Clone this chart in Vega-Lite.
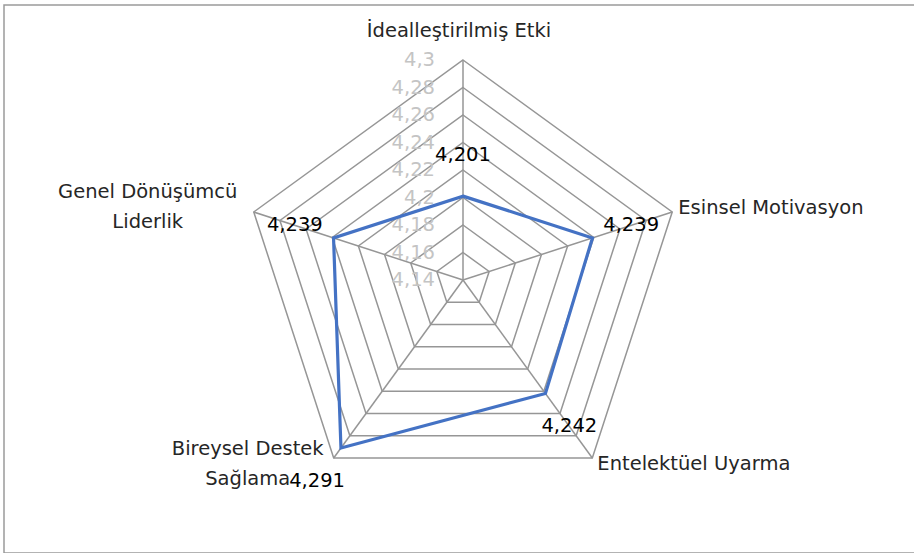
{
  "$schema": "https://vega.github.io/schema/vega-lite/v6.json",
  "width": 920,
  "height": 548,
  "autosize": "none",
  "padding": {"left": 4, "top": 5, "right": 0, "bottom": 0},
  "background": "white",
  "config": {
    "view": {"stroke": "#9a9a9a", "strokeWidth": 1.5},
    "locale": {"number": {"decimal": ",", "thousands": ".", "grouping": [3], "currency": ["", " ₺"]}},
    "text": {"font": "DejaVu Sans"}
  },
  "datasets": {
    "pts": [
      {"name": "İdealleştirilmiş Etki", "i": 0, "v": 4.201},
      {"name": "Esinsel Motivasyon", "i": 1, "v": 4.239},
      {"name": "Entelektüel Uyarma", "i": 2, "v": 4.242},
      {"name": "Bireysel Destek\nSağlama", "i": 3, "v": 4.291},
      {"name": "Genel Dönüşümcü\nLiderlik", "i": 4, "v": 4.239}
    ],
    "levels": [
      {"level": 4.14, "k0": 0, "k1": 1, "k2": 2, "k3": 3, "k4": 4},
      {"level": 4.16, "k0": 0, "k1": 1, "k2": 2, "k3": 3, "k4": 4},
      {"level": 4.18, "k0": 0, "k1": 1, "k2": 2, "k3": 3, "k4": 4},
      {"level": 4.2, "k0": 0, "k1": 1, "k2": 2, "k3": 3, "k4": 4},
      {"level": 4.22, "k0": 0, "k1": 1, "k2": 2, "k3": 3, "k4": 4},
      {"level": 4.24, "k0": 0, "k1": 1, "k2": 2, "k3": 3, "k4": 4},
      {"level": 4.26, "k0": 0, "k1": 1, "k2": 2, "k3": 3, "k4": 4},
      {"level": 4.28, "k0": 0, "k1": 1, "k2": 2, "k3": 3, "k4": 4},
      {"level": 4.3, "k0": 0, "k1": 1, "k2": 2, "k3": 3, "k4": 4}
    ]
  },
  "encoding": {
    "x": {"field": "x", "type": "quantitative", "scale": {"domain": [-2.086364, 2.095455], "zero": false, "nice": false}, "axis": null},
    "y": {"field": "y", "type": "quantitative", "scale": {"domain": [-1.240909, 1.25], "zero": false, "nice": false}, "axis": null}
  },
  "layer": [
    {
      "data": {"name": "levels"},
      "transform": [
        {"filter": "datum.level > 4.15"},
        {"fold": ["k0", "k1", "k2", "k3", "k4"]},
        {"calculate": "PI/2 - datum.value*2*PI/5", "as": "a"},
        {"calculate": "(datum.level-4.14)/0.16", "as": "r"},
        {"calculate": "datum.r*cos(datum.a)", "as": "x"},
        {"calculate": "datum.r*sin(datum.a)", "as": "y"}
      ],
      "mark": {"type": "line", "interpolate": "linear-closed", "color": "#969696", "strokeWidth": 1.5},
      "encoding": {"detail": {"field": "level", "type": "nominal"}, "order": {"field": "value", "type": "quantitative"}}
    },
    {
      "data": {"name": "pts"},
      "transform": [
        {"calculate": "PI/2 - datum.i*2*PI/5", "as": "a"},
        {"calculate": "cos(datum.a)", "as": "x"},
        {"calculate": "sin(datum.a)", "as": "y"},
        {"calculate": "0", "as": "z"}
      ],
      "mark": {"type": "rule", "color": "#969696", "strokeWidth": 1.5},
      "encoding": {"x2": {"field": "z"}, "y2": {"field": "z"}}
    },
    {
      "data": {"name": "levels"},
      "transform": [
        {"calculate": "0", "as": "x"},
        {"calculate": "(datum.level-4.14)/0.16", "as": "y"}
      ],
      "mark": {"type": "text", "align": "right", "baseline": "middle", "dx": -28, "fontSize": 19.5, "color": "#c4c4c4"},
      "encoding": {"text": {"field": "level", "type": "quantitative", "format": "~g"}}
    },
    {
      "data": {"name": "pts"},
      "transform": [
        {"calculate": "PI/2 - datum.i*2*PI/5", "as": "a"},
        {"calculate": "(datum.v-4.14)/0.16", "as": "r"},
        {"calculate": "datum.r*cos(datum.a)", "as": "x"},
        {"calculate": "datum.r*sin(datum.a)", "as": "y"}
      ],
      "mark": {"type": "line", "interpolate": "linear-closed", "color": "#4472C4", "strokeWidth": 3.2},
      "encoding": {"order": {"field": "i", "type": "quantitative"}}
    },
    {
      "data": {"name": "pts"},
      "transform": [
        {"calculate": "PI/2 - datum.i*2*PI/5", "as": "a"},
        {"calculate": "(datum.v-4.14)/0.16 + 0.185", "as": "r"},
        {"calculate": "datum.r*cos(datum.a)", "as": "x"},
        {"calculate": "datum.r*sin(datum.a)", "as": "y"}
      ],
      "mark": {"type": "text", "align": "center", "baseline": "middle", "fontSize": 19.5, "color": "#000000"},
      "encoding": {"text": {"field": "v", "type": "quantitative", "format": ".4~g"}}
    },
    {
      "data": {"name": "pts"},
      "transform": [
        {"filter": "datum.i == 0"},
        {"calculate": "PI/2 - datum.i*2*PI/5", "as": "a"},
        {"calculate": "cos(datum.a)", "as": "x"},
        {"calculate": "sin(datum.a)", "as": "y"}
      ],
      "mark": {"type": "text", "align": "center", "baseline": "middle", "dx": -4, "dy": -29, "fontSize": 19.5, "color": "#262626"},
      "encoding": {"text": {"field": "name", "type": "nominal"}}
    },
    {
      "data": {"name": "pts"},
      "transform": [
        {"filter": "datum.i == 1"},
        {"calculate": "PI/2 - datum.i*2*PI/5", "as": "a"},
        {"calculate": "cos(datum.a)", "as": "x"},
        {"calculate": "sin(datum.a)", "as": "y"}
      ],
      "mark": {"type": "text", "align": "left", "baseline": "middle", "dx": 6, "dy": -4, "fontSize": 19.5, "color": "#262626"},
      "encoding": {"text": {"field": "name", "type": "nominal"}}
    },
    {
      "data": {"name": "pts"},
      "transform": [
        {"filter": "datum.i == 2"},
        {"calculate": "PI/2 - datum.i*2*PI/5", "as": "a"},
        {"calculate": "cos(datum.a)", "as": "x"},
        {"calculate": "sin(datum.a)", "as": "y"}
      ],
      "mark": {"type": "text", "align": "left", "baseline": "middle", "dx": 5, "dy": 6, "fontSize": 19.5, "color": "#262626"},
      "encoding": {"text": {"field": "name", "type": "nominal"}}
    },
    {
      "data": {"name": "pts"},
      "transform": [
        {"filter": "datum.i == 3"},
        {"calculate": "PI/2 - datum.i*2*PI/5", "as": "a"},
        {"calculate": "cos(datum.a)", "as": "x"},
        {"calculate": "sin(datum.a)", "as": "y"}
      ],
      "mark": {"type": "text", "align": "center", "baseline": "middle", "dx": -86, "dy": -9, "fontSize": 19.5, "color": "#262626", "lineBreak": "\n", "lineHeight": 30},
      "encoding": {"text": {"field": "name", "type": "nominal"}}
    },
    {
      "data": {"name": "pts"},
      "transform": [
        {"filter": "datum.i == 4"},
        {"calculate": "PI/2 - datum.i*2*PI/5", "as": "a"},
        {"calculate": "cos(datum.a)", "as": "x"},
        {"calculate": "sin(datum.a)", "as": "y"}
      ],
      "mark": {"type": "text", "align": "center", "baseline": "middle", "dx": -106, "dy": -20, "fontSize": 19.5, "color": "#262626", "lineBreak": "\n", "lineHeight": 30},
      "encoding": {"text": {"field": "name", "type": "nominal"}}
    }
  ]
}
